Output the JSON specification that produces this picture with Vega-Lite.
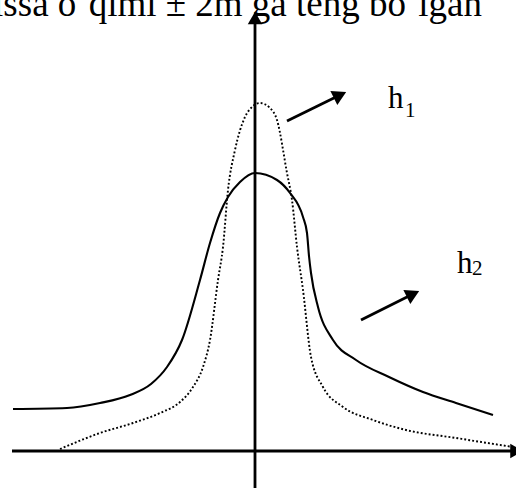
{
  "$schema": "https://vega.github.io/schema/vega-lite/v6.json",
  "width": 516,
  "height": 488,
  "autosize": {"type": "none"},
  "padding": 0,
  "background": "white",
  "config": {"view": {"stroke": null}},
  "datasets": {
    "curves": [
      {"series": "h1", "x": -195, "y": 2},
      {"series": "h1", "x": -155, "y": 18},
      {"series": "h1", "x": -122, "y": 28},
      {"series": "h1", "x": -95, "y": 38},
      {"series": "h1", "x": -75, "y": 49},
      {"series": "h1", "x": -62, "y": 64},
      {"series": "h1", "x": -52, "y": 84},
      {"series": "h1", "x": -45, "y": 111},
      {"series": "h1", "x": -37, "y": 171},
      {"series": "h1", "x": -32, "y": 204},
      {"series": "h1", "x": -27, "y": 261},
      {"series": "h1", "x": -20, "y": 301},
      {"series": "h1", "x": -10, "y": 334},
      {"series": "h1", "x": -3, "y": 344},
      {"series": "h1", "x": 5, "y": 348},
      {"series": "h1", "x": 15, "y": 343},
      {"series": "h1", "x": 22, "y": 331},
      {"series": "h1", "x": 32, "y": 278},
      {"series": "h1", "x": 37, "y": 251},
      {"series": "h1", "x": 42, "y": 204},
      {"series": "h1", "x": 48, "y": 161},
      {"series": "h1", "x": 56, "y": 94},
      {"series": "h1", "x": 68, "y": 64},
      {"series": "h1", "x": 88, "y": 44},
      {"series": "h1", "x": 118, "y": 31},
      {"series": "h1", "x": 151, "y": 21},
      {"series": "h1", "x": 201, "y": 13},
      {"series": "h1", "x": 258, "y": 4},
      {"series": "h2", "x": -242, "y": 42},
      {"series": "h2", "x": -188, "y": 43},
      {"series": "h2", "x": -155, "y": 48},
      {"series": "h2", "x": -125, "y": 56},
      {"series": "h2", "x": -104, "y": 67},
      {"series": "h2", "x": -88, "y": 84},
      {"series": "h2", "x": -73, "y": 111},
      {"series": "h2", "x": -55, "y": 171},
      {"series": "h2", "x": -45, "y": 208},
      {"series": "h2", "x": -35, "y": 238},
      {"series": "h2", "x": -27, "y": 254},
      {"series": "h2", "x": -15, "y": 269},
      {"series": "h2", "x": 0, "y": 278},
      {"series": "h2", "x": 22, "y": 271},
      {"series": "h2", "x": 35, "y": 258},
      {"series": "h2", "x": 48, "y": 234},
      {"series": "h2", "x": 52, "y": 218},
      {"series": "h2", "x": 54, "y": 195},
      {"series": "h2", "x": 56, "y": 178},
      {"series": "h2", "x": 63, "y": 144},
      {"series": "h2", "x": 78, "y": 111},
      {"series": "h2", "x": 101, "y": 91},
      {"series": "h2", "x": 134, "y": 74},
      {"series": "h2", "x": 168, "y": 59},
      {"series": "h2", "x": 201, "y": 48},
      {"series": "h2", "x": 238, "y": 36}
    ],
    "segments": [
      {"part": "ordinate", "x": 0, "y": -37, "x2": 0, "y2": 431},
      {"part": "abscissa", "x": -243, "y": 0, "x2": 257, "y2": 0},
      {"part": "pointer h1", "x": 32, "y": 330, "x2": 85, "y2": 356},
      {"part": "pointer h2", "x": 106, "y": 131, "x2": 158, "y2": 157}
    ],
    "headUp": [{"x": 0, "y": 433}],
    "headRight": [{"x": 261.5, "y": 0}],
    "headDiag": [{"x": 85, "y": 356}, {"x": 158, "y": 157}],
    "letters": [
      {"t": "h", "x": 133, "y": 343},
      {"t": "h", "x": 202, "y": 178}
    ],
    "subscripts": [
      {"t": "1", "x": 150, "y": 334},
      {"t": "2", "x": 217, "y": 176}
    ],
    "caption": [{"t": "issa o‘qimi ± 2m ga teng bo‘lgan", "x": 227, "y": 435}]
  },
  "encoding": {
    "x": {"field": "x", "type": "quantitative", "axis": null,
          "scale": {"domain": [-255, 261], "nice": false, "zero": false}},
    "y": {"field": "y", "type": "quantitative", "axis": null,
          "scale": {"domain": [-37, 451], "nice": false, "zero": false}}
  },
  "layer": [
    {
      "data": {"name": "curves"},
      "transform": [{"filter": "datum.series === 'h1'"}],
      "mark": {"type": "line", "interpolate": "monotone", "color": "black",
               "strokeWidth": 1.9, "strokeDash": [1.9, 2.1]},
      "encoding": {"order": {"field": "x", "type": "quantitative"}}
    },
    {
      "data": {"name": "curves"},
      "transform": [{"filter": "datum.series === 'h2'"}],
      "mark": {"type": "line", "interpolate": "monotone", "color": "black",
               "strokeWidth": 2.1},
      "encoding": {"order": {"field": "x", "type": "quantitative"}}
    },
    {
      "data": {"name": "segments"},
      "mark": {"type": "rule", "color": "black", "strokeWidth": 2.8},
      "encoding": {
        "x2": {"field": "x2"},
        "y2": {"field": "y2"}
      }
    },
    {
      "data": {"name": "headUp"},
      "mark": {"type": "point", "shape": "triangle-up", "filled": true,
               "color": "black", "opacity": 1, "size": 210}
    },
    {
      "data": {"name": "headRight"},
      "mark": {"type": "point", "shape": "triangle-right", "filled": true,
               "color": "black", "opacity": 1, "size": 210}
    },
    {
      "data": {"name": "headDiag"},
      "mark": {"type": "point", "shape": "triangle-right", "filled": true,
               "color": "black", "opacity": 1, "size": 250, "angle": -26}
    },
    {
      "data": {"name": "letters"},
      "mark": {"type": "text", "font": "Liberation Serif", "fontSize": 31,
               "align": "left", "baseline": "alphabetic", "color": "black"},
      "encoding": {"text": {"field": "t"}}
    },
    {
      "data": {"name": "subscripts"},
      "mark": {"type": "text", "font": "Liberation Serif", "fontSize": 21,
               "align": "left", "baseline": "alphabetic", "color": "black"},
      "encoding": {"text": {"field": "t"}}
    },
    {
      "data": {"name": "caption"},
      "mark": {"type": "text", "font": "Liberation Serif", "fontSize": 37,
               "align": "right", "baseline": "alphabetic", "color": "black"},
      "encoding": {"text": {"field": "t"}}
    }
  ]
}
